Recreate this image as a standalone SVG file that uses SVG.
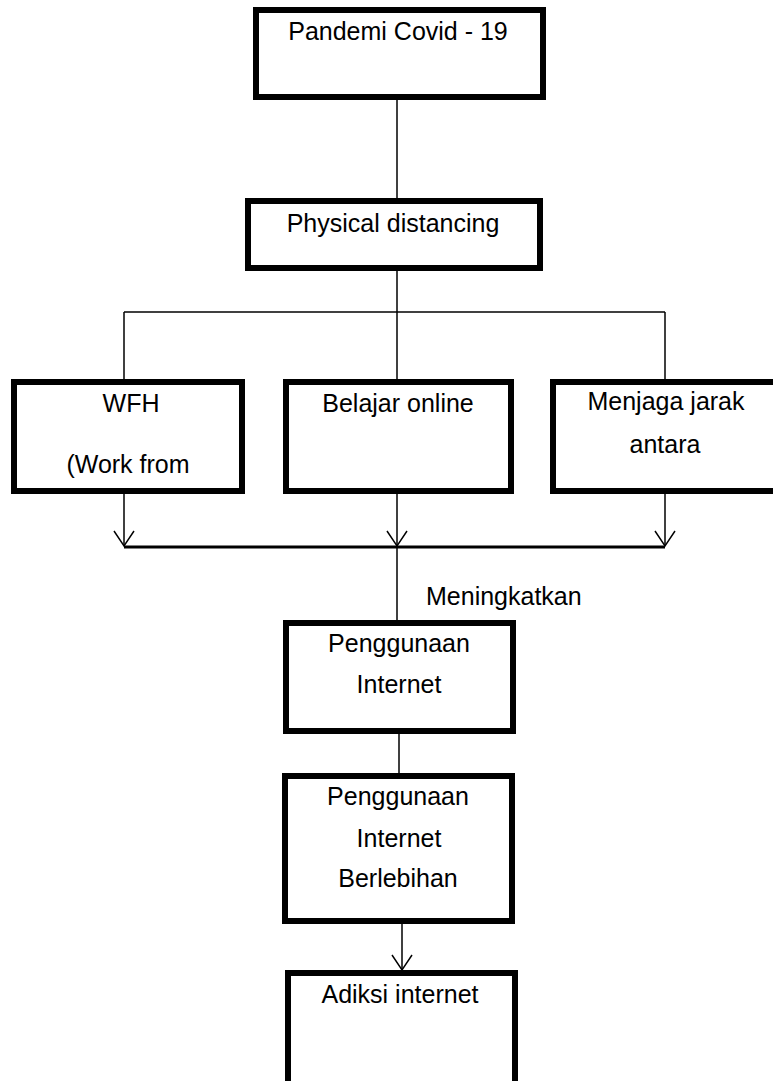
<svg xmlns="http://www.w3.org/2000/svg" width="773" height="1081" viewBox="0 0 773 1081">
  <style>
    .box { fill: #ffffff; stroke: #000000; stroke-width: 6; }
    .lbl { font-family: "Liberation Sans", Arial, sans-serif; font-size: 25px; fill: #000000; text-anchor: middle; }
    .conn { fill: none; stroke: #000000; stroke-width: 1.5; }
    .thick { stroke-width: 3; }
  </style>
  <defs>
    <marker id="arr" markerUnits="userSpaceOnUse" markerWidth="20" markerHeight="24" viewBox="-17 -12 20 24" refX="0" refY="0" orient="auto" overflow="visible">
      <path d="M-15,-10 L0,0 L-15,10" fill="none" stroke="#000000" stroke-width="1.5"/>
    </marker>
  </defs>
  <rect width="773" height="1081" fill="#ffffff"/>
  <g id="connectors">
    <path class="conn" d="M397,100 V198"/>
    <path class="conn" d="M397,271 V312"/>
    <path class="conn" d="M124,312 H665"/>
    <path class="conn" d="M124,312 V396" marker-end="url(#arr)"/>
    <path class="conn" d="M397,312 V382"/>
    <path class="conn" d="M665,312 V396" marker-end="url(#arr)"/>
    <path class="conn" d="M124,494 V546" marker-end="url(#arr)"/>
    <path class="conn" d="M397,494 V546" marker-end="url(#arr)"/>
    <path class="conn" d="M665,494 V546" marker-end="url(#arr)"/>
    <path class="conn thick" d="M124,547 H665"/>
    <path class="conn" d="M397,547 V637" marker-end="url(#arr)"/>
    <path class="conn" d="M399,734 V790" marker-end="url(#arr)"/>
    <path class="conn" d="M402,924 V970" marker-end="url(#arr)"/>
    <text class="lbl" x="426" y="605" style="text-anchor:start">Meningkatkan</text>
  </g>
  <g id="pandemi">
    <rect class="box" x="256" y="10" width="287" height="87"/>
    <text class="lbl" x="398" y="40">Pandemi Covid - 19</text>
  </g>
  <g id="physical">
    <rect class="box" x="248" y="201" width="292" height="67"/>
    <text class="lbl" x="393" y="232">Physical distancing</text>
  </g>
  <g id="wfh">
    <rect class="box" x="14" y="382" width="228" height="109"/>
    <text class="lbl" x="131" y="412">WFH</text>
    <text class="lbl" x="128" y="473">(Work from</text>
  </g>
  <g id="belajar">
    <rect class="box" x="286" y="382" width="225" height="109"/>
    <text class="lbl" x="398" y="412">Belajar online</text>
  </g>
  <g id="menjaga">
    <rect class="box" x="553" y="382" width="232" height="109"/>
    <text class="lbl" x="666" y="410">Menjaga jarak</text>
    <text class="lbl" x="665" y="453">antara</text>
  </g>
  <g id="penggunaan">
    <rect class="box" x="286" y="623" width="227" height="108"/>
    <text class="lbl" x="399" y="652">Penggunaan</text>
    <text class="lbl" x="399" y="693">Internet</text>
  </g>
  <g id="berlebihan">
    <rect class="box" x="285" y="776" width="227" height="145"/>
    <text class="lbl" x="398" y="805">Penggunaan</text>
    <text class="lbl" x="399" y="847">Internet</text>
    <text class="lbl" x="398" y="887">Berlebihan</text>
  </g>
  <g id="adiksi">
    <rect class="box" x="288" y="973" width="227" height="111"/>
    <text class="lbl" x="400" y="1003">Adiksi internet</text>
  </g>
</svg>
